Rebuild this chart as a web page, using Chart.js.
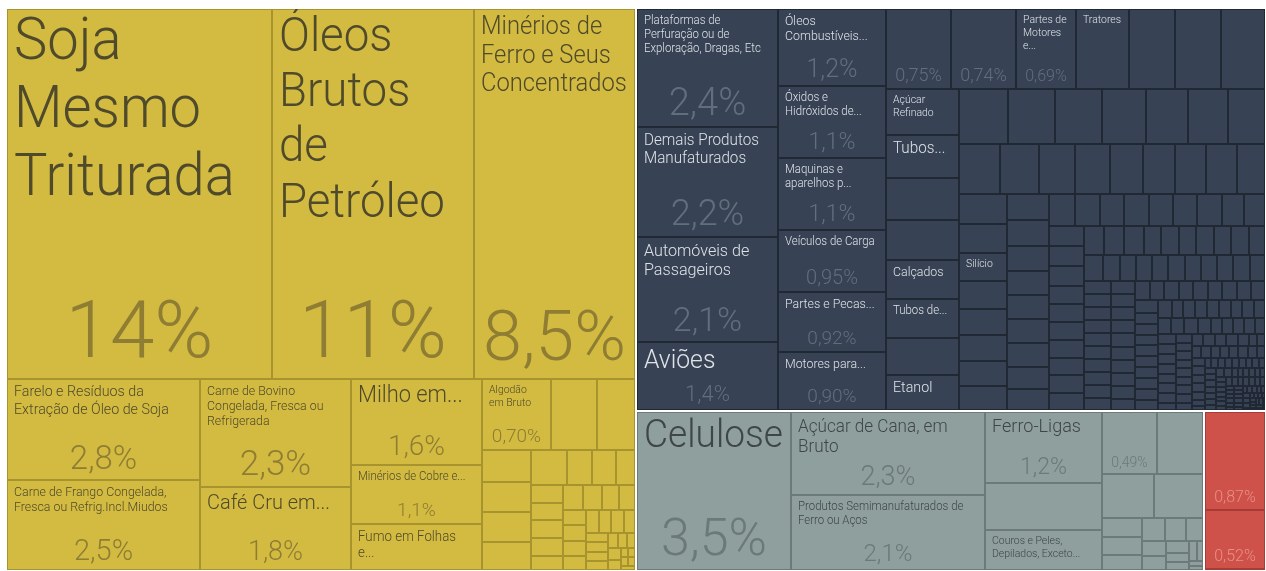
<!DOCTYPE html>
<html lang="pt-BR">
<head>
<meta charset="utf-8">
<title>Exportações - Treemap</title>
<script src="https://cdn.jsdelivr.net/npm/chart.js@4.4.1/dist/chart.umd.min.js"></script>
<style>
    html, body { margin: 0; padding: 0; background: #ffffff; overflow: hidden; }
    canvas { display: block; }
</style>
</head>
<body>
<canvas id="treemapChart" width="1266" height="571"></canvas>
<script>
// ---- data (share of exports, %) ----
const groupNames = ["Produtos Básicos", "Manufaturados", "Semimanufaturados", "Operações Especiais"];

const basicLabels = [
    "Soja Mesmo Triturada", "Óleos Brutos de Petróleo", "Minérios de Ferro e Seus Concentrados",
    "Farelo e Resíduos da Extração de Óleo de Soja", "Carne de Frango Congelada, Fresca ou Refrig.Incl.Miudos",
    "Carne de Bovino Congelada, Fresca ou Refrigerada", "Café Cru em...", "Milho em...",
    "Minérios de Cobre e...", "Fumo em Folhas e...", "Algodão em Bruto"
];
const basicValues = [
    14, 10.6, 8.5, 2.8, 2.5, 2.3, 1.8, 1.6, 1.1, 0.88, 0.70, 0.47, 0.40,
    0.22, 0.21, 0.21, 0.20, 0.18, 0.12, 0.12, 0.10,
    0.08, 0.08, 0.08, 0.08, 0.07, 0.07, 0.07, 0.06, 0.06,
    0.05, 0.05, 0.05, 0.05, 0.04, 0.04, 0.04, 0.04, 0.03, 0.03, 0.03, 0.03,
    0.02, 0.02, 0.02, 0.02, 0.02, 0.01, 0.01, 0.01, 0.01, 0.01
];

const manufLabels = [
    "Plataformas de Perfuração ou de Exploração, Dragas, Etc", "Demais Produtos Manufaturados",
    "Automóveis de Passageiros", "Aviões",
    "Óleos Combustíveis...", "Óxidos e Hidróxidos de...", "Maquinas e aparelhos p...",
    "Veículos de Carga", "Partes e Pecas...", "Motores para...",
    "", "", "Partes de Motores e...", "Tratores", "", "", "",
    "Açúcar Refinado", "Tubos...", "", "", "Calçados", "Tubos de...", "", "Etanol",
    "", "", "", "", "", "", "",
    "", "", "", "", "", "", "", "", "",
    "", "", "Silício"
];
const manufValues = [
    2.4, 2.2, 2.1, 1.4,
    1.2, 1.1, 1.1, 0.95, 0.92, 0.90,
    0.75, 0.74, 0.69, 0.60, 0.53, 0.52, 0.52,
    0.48, 0.45, 0.44, 0.42, 0.41, 0.40, 0.39, 0.38,
    0.38, 0.37, 0.37, 0.34, 0.33, 0.31, 0.30,
    0.29, 0.28, 0.26, 0.25, 0.24, 0.23, 0.22, 0.22, 0.21,
    0.20, 0.20, 0.19, 0.19, 0.18, 0.18, 0.17, 0.17,
    0.15, 0.15, 0.15, 0.14, 0.14, 0.14, 0.14, 0.13, 0.13,
    0.12, 0.11, 0.11, 0.11, 0.11, 0.11, 0.11, 0.10, 0.10,
    0.10, 0.10, 0.10, 0.09, 0.09, 0.09, 0.09, 0.09, 0.09, 0.09,
    0.08, 0.08, 0.08, 0.07, 0.07, 0.07, 0.07, 0.07, 0.07, 0.07,
    0.07, 0.06, 0.06, 0.06, 0.06, 0.06, 0.06, 0.06, 0.06, 0.06, 0.06,
    0.05, 0.05, 0.05, 0.05, 0.05, 0.05, 0.05, 0.05, 0.05, 0.05,
    0.045, 0.045, 0.045, 0.045, 0.045, 0.045, 0.045, 0.045, 0.045,
    0.04, 0.04, 0.04, 0.04, 0.04, 0.04, 0.04, 0.04, 0.04, 0.04, 0.04,
    0.035, 0.035, 0.035, 0.035, 0.035, 0.035, 0.035, 0.035, 0.035, 0.035,
    0.03, 0.03, 0.03, 0.03, 0.03, 0.03, 0.03, 0.03, 0.03, 0.03, 0.03, 0.03,
    0.025, 0.025, 0.025, 0.025, 0.025, 0.025, 0.025, 0.025, 0.025, 0.025, 0.025, 0.025,
    0.02, 0.02, 0.02, 0.02, 0.02, 0.02, 0.02, 0.02, 0.02, 0.02, 0.02, 0.02, 0.02, 0.02, 0.02,
    0.015, 0.015, 0.015, 0.015, 0.015, 0.015, 0.015, 0.015, 0.015, 0.015, 0.015, 0.015, 0.015, 0.015, 0.015,
    0.01, 0.01, 0.01, 0.01, 0.01, 0.01, 0.01, 0.01, 0.01, 0.01,
    0.01, 0.01, 0.01, 0.01, 0.01, 0.01, 0.01, 0.01, 0.01, 0.01,
    0.007, 0.007, 0.007, 0.007, 0.007, 0.007, 0.007, 0.007, 0.007, 0.007,
    0.007, 0.007, 0.007, 0.007, 0.007, 0.007, 0.007, 0.007, 0.007, 0.007,
    0.005, 0.005, 0.005, 0.005, 0.005, 0.005, 0.005, 0.005, 0.005, 0.005,
    0.005, 0.005, 0.005, 0.005, 0.005, 0.005, 0.005, 0.005, 0.005, 0.005,
    0.003, 0.003, 0.003, 0.003, 0.003, 0.003, 0.003, 0.003, 0.003, 0.003,
    0.003, 0.003, 0.003, 0.003, 0.003
];

const semiLabels = [
    "Celulose", "Açúcar de Cana, em Bruto", "Produtos Semimanufaturados de Ferro ou Aços",
    "Ferro-Ligas", "", "Couros e Peles, Depilados, Exceto..."
];
const semiValues = [
    3.5, 2.3, 2.1, 1.2, 0.78, 0.68, 0.49, 0.41, 0.32, 0.31,
    0.11, 0.10, 0.09, 0.08, 0.07, 0.06, 0.05, 0.05, 0.04, 0.03, 0.03, 0.02, 0.02, 0.01, 0.01
];

const specialLabels = [];
const specialValues = [0.87, 0.52, 0.02];

// ---- look ----
const groupStyles = [
    { fill: "#d3bb41", border: "#a8942f", name: "#4f4a2b", share: "#8e7d33" },
    { fill: "#374254", border: "#202834", name: "#dfe3e8", share: "#636e7d" },
    { fill: "#8f9f9e", border: "#6c7a79", name: "#3e4646", share: "#6b7978" },
    { fill: "#cf524a", border: "#a63c35", name: "#f6d9d6", share: "#e98f88" }
];
const FONT_FAMILY = "Roboto, 'Open Sans', 'Liberation Sans', sans-serif";
const NAME_SCALE_X = 0.95;  // names are squeezed a little (narrow light face look)
const NAME_DENSITY = 2.1;   // how much of the box a name may cover
const LAYOUT_ASPECT = 0.522; // height / width of the layout space
const PHI = (1 + Math.sqrt(5)) / 2;

const font = size => `300 ${size}px ${FONT_FAMILY}`;

function formatShare(v) {
    if (v >= 10) return Math.round(v) + "%";
    if (v >= 1) return v.toFixed(1).replace(".", ",") + "%";
    return v.toFixed(2).replace(".", ",") + "%";
}

function buildTree() {
    const labels = [basicLabels, manufLabels, semiLabels, specialLabels];
    const values = [basicValues, manufValues, semiValues, specialValues];
    return groupNames.map((name, g) => {
        const children = values[g].map((v, i) => ({ label: labels[g][i] || "", value: v }));
        return { name, style: groupStyles[g], children, value: children.reduce((s, c) => s + c.value, 0) };
    });
}

// squarified tiling (same idea as d3.treemapSquarify)
function squarify(nodes, x0, y0, x1, y1) {
    let value = nodes.reduce((s, n) => s + n.value, 0);
    let i0 = 0, i1 = 0;
    const n = nodes.length;
    while (i0 < n) {
        const dx = x1 - x0, dy = y1 - y0;
        let sum = nodes[i1++].value;
        let minV = sum, maxV = sum;
        const alpha = Math.max(dy / dx, dx / dy) / (value * PHI);
        let beta = sum * sum * alpha;
        let minRatio = Math.max(maxV / beta, beta / minV);
        for (; i1 < n; ++i1) {
            const v = nodes[i1].value;
            sum += v;
            if (v < minV) minV = v;
            if (v > maxV) maxV = v;
            beta = sum * sum * alpha;
            const r = Math.max(maxV / beta, beta / minV);
            if (r > minRatio) { sum -= v; break; }
            minRatio = r;
        }
        const row = nodes.slice(i0, i1);
        if (dx < dy) {
            const ny = value ? y0 + dy * sum / value : y1;
            let x = x0;
            row.forEach(nd => { nd.x0 = x; x += dx * nd.value / sum; nd.x1 = x; nd.y0 = y0; nd.y1 = ny; });
            y0 = ny;
        } else {
            const nx = value ? x0 + dx * sum / value : x1;
            let y = y0;
            row.forEach(nd => { nd.y0 = y; y += dy * nd.value / sum; nd.y1 = y; nd.x0 = x0; nd.x1 = nx; });
            x0 = nx;
        }
        value -= sum;
        i0 = i1;
    }
}

const nameWidth = (ctx, t) => ctx.measureText(t).width * NAME_SCALE_X;

function wrapText(ctx, text, maxW) {
    const words = text.split(" ");
    const lines = [];
    let cur = "";
    words.forEach(w => {
        const t = cur ? cur + " " + w : w;
        if (!cur || nameWidth(ctx, t) <= maxW) cur = t;
        else { lines.push(cur); cur = w; }
    });
    if (cur) lines.push(cur);
    return lines;
}

function shareSizeFor(ctx, text, w, h) {
    let size = Math.min(80, 0.33 * h);
    if (size < 16 || w < 54) return null;
    ctx.font = font(100);
    const perPx = ctx.measureText(text).width / 100;
    size = Math.min(size, (w - 18) / perPx);
    if (size < 14) return null;
    return Math.floor(size);
}

function fitName(ctx, text, w, boxH) {
    const maxW = w - 14;
    ctx.font = font(100);
    const em = nameWidth(ctx, text) / 100;
    let size = Math.min(64, Math.floor(Math.sqrt(maxW * Math.max(boxH, 1) / (em * NAME_DENSITY))));
    for (; size >= 11; size--) {
        ctx.font = font(size);
        const lines = wrapText(ctx, text, maxW);
        const widest = Math.max(...lines.map(l => nameWidth(ctx, l)));
        if (widest <= maxW && lines.length * size * 1.15 <= boxH) return { size, lines };
    }
    ctx.font = font(11);
    return { size: 11, lines: wrapText(ctx, text, maxW) };
}

function drawText(ctx, text, x, y, scaleX) {
    ctx.save();
    ctx.translate(x, y);
    ctx.scale(scaleX, 1);
    ctx.fillText(text, 0, 0);
    ctx.restore();
}

const treemapPlugin = {
    id: "treemap",
    afterDatasetsDraw(chart) {
        const { ctx, scales: { x, y } } = chart;
        const px = v => Math.round(x.getPixelForValue(v));
        const py = v => Math.round(y.getPixelForValue(v));

        const groups = buildTree();
        squarify(groups, x.min, y.min, x.max, y.max);
        groups.forEach(g => squarify(g.children, g.x0, g.y0, g.x1, g.y1));

        ctx.save();
        groups.forEach(g => {
            const st = g.style;
            const gx0 = px(g.x0) + 1, gy0 = py(g.y0) + 1, gx1 = px(g.x1) - 1, gy1 = py(g.y1) - 1;

            ctx.save();
            ctx.beginPath();
            ctx.rect(gx0, gy0, gx1 - gx0, gy1 - gy0);
            ctx.clip();

            // cells
            g.children.forEach(c => {
                const cx0 = px(c.x0), cy0 = py(c.y0), cx1 = px(c.x1), cy1 = py(c.y1);
                ctx.fillStyle = st.fill;
                ctx.fillRect(cx0, cy0, cx1 - cx0, cy1 - cy0);
                ctx.strokeStyle = st.border;
                ctx.lineWidth = 1;
                ctx.strokeRect(cx0 + 0.5, cy0 + 0.5, cx1 - cx0 - 1, cy1 - cy0 - 1);
            });
            ctx.strokeStyle = st.border;
            ctx.strokeRect(gx0 + 0.5, gy0 + 0.5, gx1 - gx0 - 1, gy1 - gy0 - 1);

            // labels: name on top-left, share centred at the bottom
            g.children.forEach(c => {
                const cx0 = Math.max(px(c.x0), gx0), cy0 = Math.max(py(c.y0), gy0);
                const cx1 = Math.min(px(c.x1), gx1), cy1 = Math.min(py(c.y1), gy1);
                const w = cx1 - cx0, h = cy1 - cy0;
                if (w < 20 || h < 14) return;

                ctx.save();
                ctx.beginPath();
                ctx.rect(cx0, cy0, w, h);
                ctx.clip();

                const shareText = formatShare(c.value);
                let shareSize = shareSizeFor(ctx, shareText, w, h);
                if (c.label) {
                    const boxH = h - 12 - (shareSize ? shareSize * 1.05 : 0);
                    const fit = fitName(ctx, c.label, w, boxH);
                    ctx.font = font(fit.size);
                    ctx.fillStyle = st.name;
                    ctx.textAlign = "left";
                    ctx.textBaseline = "top";
                    fit.lines.forEach((line, i) => {
                        drawText(ctx, line, cx0 + 7, cy0 + 6 + i * fit.size * 1.15, NAME_SCALE_X);
                    });
                    if (shareSize) {
                        const room = (h - 10 - fit.lines.length * fit.size * 1.15) / 1.1;
                        shareSize = room >= 14 ? Math.floor(Math.min(shareSize, room)) : null;
                    }
                }
                if (shareSize) {
                    ctx.font = font(shareSize);
                    ctx.fillStyle = st.share;
                    ctx.textAlign = "center";
                    ctx.textBaseline = "alphabetic";
                    drawText(ctx, shareText, (cx0 + cx1) / 2, cy1 - 4 - 0.22 * shareSize, 1);
                }
                ctx.restore();
            });
            ctx.restore();
        });
        ctx.restore();
    }
};

new Chart(document.getElementById("treemapChart"), {
    type: "scatter",
    data: { datasets: [{ data: [] }] },
    options: {
        responsive: false,
        animation: false,
        devicePixelRatio: 1,
        layout: { padding: { left: 6, top: 8, right: 0, bottom: 0 } },
        scales: {
            x: { type: "linear", min: 0, max: 1, display: false },
            y: { type: "linear", min: 0, max: LAYOUT_ASPECT, reverse: true, display: false }
        },
        plugins: { legend: { display: false }, tooltip: { enabled: false } }
    },
    plugins: [treemapPlugin]
});
</script>
</body>
</html>
